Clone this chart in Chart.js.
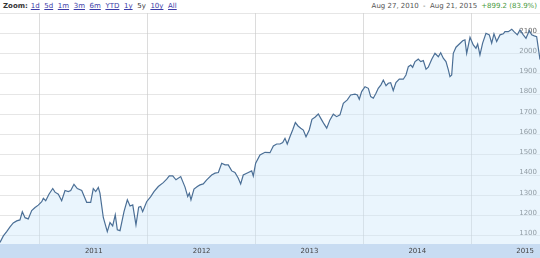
<!DOCTYPE html>
<html>
<head>
<meta charset="utf-8">
<script src="https://cdn.jsdelivr.net/npm/chart.js@4/dist/chart.umd.min.js"></script>
<style>
  html, body { margin: 0; padding: 0; background: #fff; }
  body { width: 540px; height: 258px; position: relative; overflow: hidden; font-family: "DejaVu Sans", Verdana, sans-serif; }
  #zoom { position: absolute; left: 3px; top: 2px; font-size: 7px; color: #333; white-space: nowrap; }
  #zoom b { margin-right: 3px; }
  #zoom a { color: #3c3ca8; text-decoration: underline; margin-right: 4.6px; }
  #zoom span.sel { margin-right: 4.6px; }
  #range { position: absolute; right: 3px; top: 2px; font-size: 7px; color: #555; white-space: nowrap; }
  #range .chg { color: #4a9a3e; margin-left: 4px; }
  #wrap { position: absolute; left: 0; top: 12px; width: 540px; height: 246px; }
</style>
</head>
<body>
<div id="zoom"><b>Zoom:</b><a>1d</a><a>5d</a><a>1m</a><a>3m</a><a>6m</a><a>YTD</a><a>1y</a><span class="sel">5y</span><a>10y</a><a>All</a></div>
<div id="range">Aug 27, 2010 &nbsp;-&nbsp; Aug 21, 2015<span class="chg">+899.2 (83.9%)</span></div>
<div id="wrap"><canvas id="c" width="540" height="246"></canvas></div>
<script>
// time in fractional years, index close
const times = [
  2010.630, 2010.661, 2010.692, 2010.723, 2010.753, 2010.785, 2010.815, 2010.837, 2010.862, 2010.892,
  2010.924, 2010.955, 2010.985, 2011.017, 2011.032, 2011.054, 2011.084, 2011.119, 2011.140, 2011.171,
  2011.202, 2011.233, 2011.263, 2011.286, 2011.316, 2011.347, 2011.388, 2011.418, 2011.434, 2011.471,
  2011.495, 2011.518, 2011.542, 2011.557, 2011.588, 2011.625, 2011.650, 2011.675, 2011.699, 2011.718,
  2011.743, 2011.780, 2011.811, 2011.836, 2011.861, 2011.891, 2011.916, 2011.935, 2011.953, 2011.990,
  2012.028, 2012.058, 2012.098, 2012.144, 2012.176, 2012.200, 2012.232, 2012.262, 2012.306, 2012.346,
  2012.371, 2012.386, 2012.401, 2012.429, 2012.460, 2012.485, 2012.515, 2012.547, 2012.593, 2012.624,
  2012.655, 2012.686, 2012.717, 2012.747, 2012.779, 2012.809, 2012.840, 2012.862, 2012.886, 2012.933,
  2012.964, 2012.979, 2013.001, 2013.041, 2013.088, 2013.134, 2013.165, 2013.196, 2013.227, 2013.252,
  2013.273, 2013.294, 2013.319, 2013.344, 2013.369, 2013.394, 2013.419, 2013.443, 2013.468, 2013.498,
  2013.523, 2013.551, 2013.582, 2013.613, 2013.635, 2013.660, 2013.690, 2013.721, 2013.752, 2013.783,
  2013.814, 2013.851, 2013.882, 2013.922, 2013.944, 2013.962, 2013.984, 2014.015, 2014.046, 2014.068,
  2014.092, 2014.117, 2014.138, 2014.163, 2014.185, 2014.210, 2014.231, 2014.253, 2014.277, 2014.302,
  2014.333, 2014.370, 2014.395, 2014.417, 2014.439, 2014.457, 2014.479, 2014.509, 2014.532, 2014.556,
  2014.581, 2014.602, 2014.634, 2014.664, 2014.695, 2014.717, 2014.741, 2014.766, 2014.788, 2014.803,
  2014.819, 2014.834, 2014.859, 2014.890, 2014.921, 2014.942, 2014.958, 2014.989, 2015.019, 2015.044,
  2015.060, 2015.081, 2015.106, 2015.137, 2015.168, 2015.190, 2015.211, 2015.236, 2015.267, 2015.298,
  2015.313, 2015.344, 2015.376, 2015.397, 2015.428, 2015.452, 2015.483, 2015.508, 2015.539, 2015.561,
  2015.585, 2015.607, 2015.638
];
const closes = [
  1068, 1100, 1121, 1145, 1164, 1174, 1179, 1219, 1190, 1184,
  1225, 1240, 1252, 1269, 1286, 1274, 1306, 1334, 1316, 1306,
  1274, 1324, 1319, 1324, 1355, 1334, 1324, 1286, 1266, 1266,
  1334, 1319, 1339, 1311, 1191, 1121, 1166, 1149, 1204, 1130,
  1126, 1220, 1278, 1248, 1253, 1154, 1242, 1245, 1220, 1269,
  1294, 1319, 1344, 1363, 1380, 1396, 1396, 1377, 1393, 1341,
  1294, 1311, 1278, 1331, 1344, 1352, 1357, 1377, 1401, 1410,
  1413, 1459, 1451, 1451, 1421, 1413, 1385, 1357, 1401, 1413,
  1421, 1396, 1459, 1500, 1513, 1511, 1544, 1554, 1554, 1561,
  1582, 1554, 1590, 1623, 1660, 1643, 1632, 1623, 1590, 1623,
  1676, 1686, 1702, 1673, 1653, 1632, 1673, 1701, 1689, 1698,
  1755, 1772, 1796, 1800, 1796, 1775, 1813, 1837, 1829, 1788,
  1780, 1805, 1829, 1846, 1870, 1842, 1854, 1857, 1818, 1857,
  1874, 1874, 1895, 1936, 1944, 1933, 1961, 1973, 1961, 1966,
  1923, 1933, 1973, 2002, 1985, 2005, 1978, 1961, 1920, 1887,
  1895, 2002, 2032, 2048, 2064, 2068, 2002, 2081, 2043, 2027,
  2048, 1994, 2052, 2101, 2093, 2052, 2098, 2060, 2093, 2098,
  2109, 2109, 2121, 2109, 2093, 2117, 2093, 2076, 2114, 2093,
  2088, 2084, 1971
];
const years = [2011, 2012, 2013, 2014, 2015];
const yearLabels = ['2011', '2012', '2013', '2014', '2015'];
const yTicks = [1100, 1200, 1300, 1400, 1500, 1600, 1700, 1800, 1900, 2000, 2100, 2200];

const points = times.map((t, i) => ({x: t, y: closes[i]}));

// navigator-like band with year labels under the plot
const yearBand = {
  id: 'yearBand',
  afterDraw(chart) {
    const {ctx, chartArea} = chart;
    const xs = chart.scales.x;
    ctx.save();
    ctx.fillStyle = '#c8dcf2';
    ctx.fillRect(0, chartArea.bottom, chart.width, chart.height - chartArea.bottom);
    ctx.fillStyle = '#444';
    ctx.font = '7px "DejaVu Sans"';
    ctx.textAlign = 'center';
    ctx.textBaseline = 'middle';
    years.forEach((yr, i) => {
      let px = xs.getPixelForValue(yr + 0.5);
      if (px > chart.width - 10) px = chart.width - 10;
      ctx.fillText(yearLabels[i], px, chartArea.bottom + 7.5);
    });
    ctx.restore();
  }
};

new Chart(document.getElementById('c'), {
  type: 'line',
  data: {
    datasets: [{
      data: points,
      borderColor: '#4b6f96',
      borderWidth: 1.2,
      backgroundColor: 'rgba(205,232,250,0.42)',
      fill: 'start',
      pointRadius: 0,
      tension: 0
    }]
  },
  options: {
    responsive: false,
    animation: false,
    layout: { padding: { top: 1, bottom: 14, left: 0, right: 0 } },
    plugins: { legend: { display: false }, tooltip: { enabled: false } },
    scales: {
      x: {
        type: 'linear',
        min: 2010.63,
        max: 2015.638,
        afterBuildTicks: (s) => { s.ticks = years.map(v => ({value: v})); },
        ticks: { display: false },
        grid: { color: '#dcdcdc', drawTicks: false },
        border: { display: false }
      },
      y: {
        position: 'right',
        z: 1,
        min: 1060,
        max: 2200,
        afterBuildTicks: (s) => { s.ticks = yTicks.map(v => ({value: v})); },
        ticks: {
          mirror: true,
          padding: -3,
          labelOffset: -2.5,
          color: '#666',
          font: { family: 'DejaVu Sans', size: 7 },
          callback: (v) => (v === 2200 ? '' : String(v))
        },
        grid: { color: 'rgba(200,200,200,0.45)', drawTicks: false },
        border: { display: false }
      }
    }
  },
  plugins: [yearBand]
});
</script>
</body>
</html>
